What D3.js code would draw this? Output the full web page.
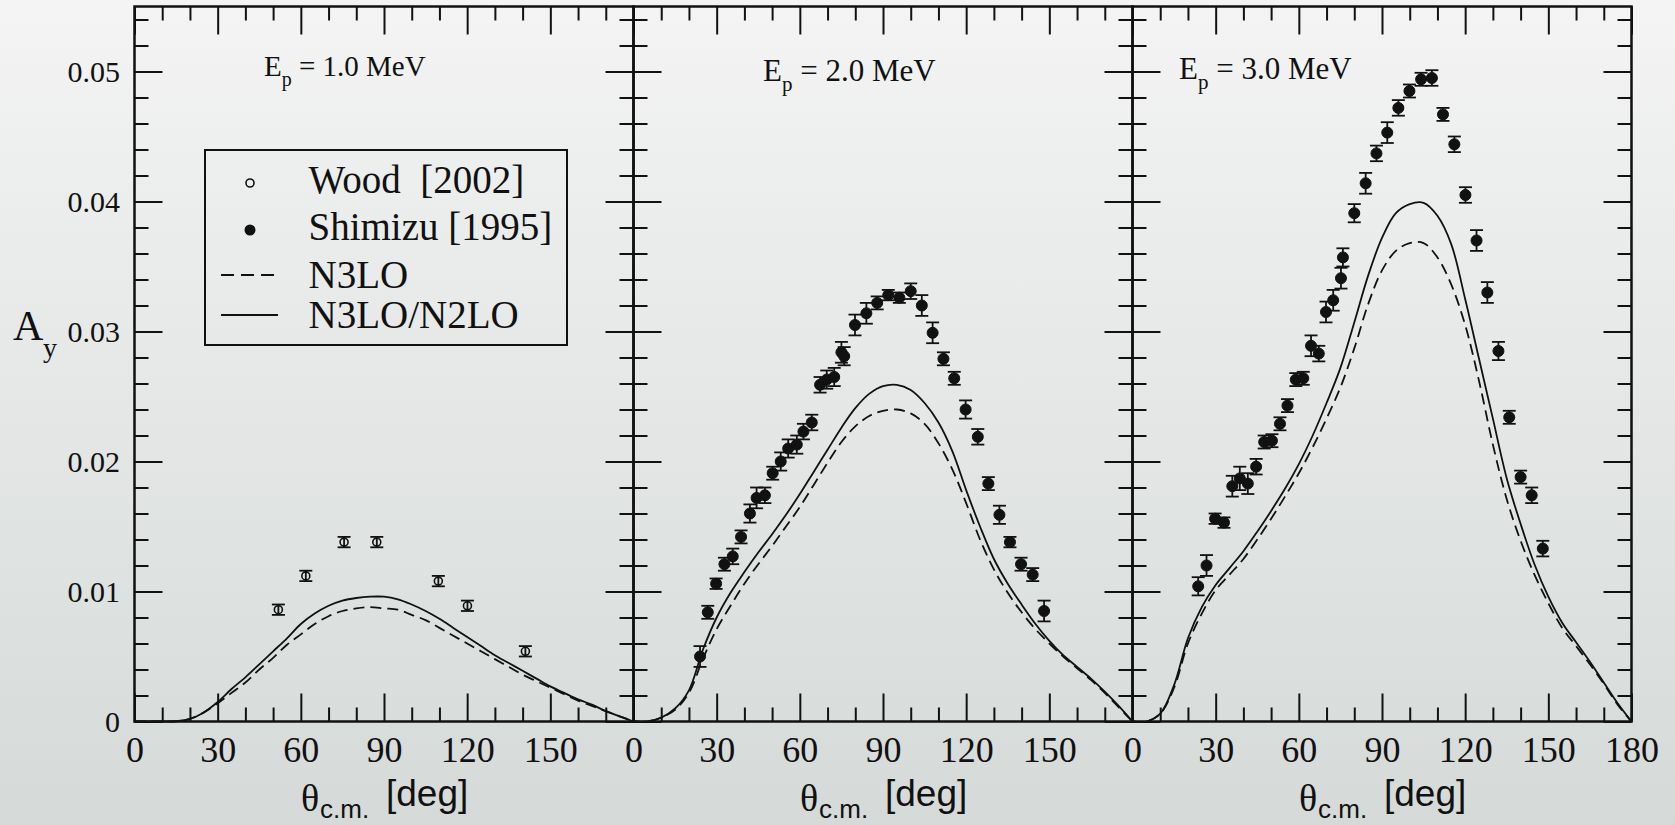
<!DOCTYPE html>
<html><head><meta charset="utf-8">
<script src="https://cdn.jsdelivr.net/npm/d3@7"></script>
<style>
html,body{margin:0;padding:0;background:#e6e8e7;}
body{width:1675px;height:825px;overflow:hidden;}
</style></head><body>
<script>
// ---------------- data ----------------
const energies = ["1.0", "2.0", "3.0"];
const xMajorTicks = [0, 30, 60, 90, 120, 150, 180];
const xMinorTicks = [10, 20, 40, 50, 70, 80, 100, 110, 130, 140, 160, 170];
const yMajorTicks = [0, 0.01, 0.02, 0.03, 0.04, 0.05];
const yMinorTicks = [0.002, 0.004, 0.006, 0.008, 0.012, 0.014, 0.016, 0.018, 0.022, 0.024, 0.026, 0.028,
                     0.032, 0.034, 0.036, 0.038, 0.042, 0.044, 0.046, 0.048, 0.052, 0.054];
const legendLabels = ["Wood  [2002]", "Shimizu [1995]", "N3LO", "N3LO/N2LO"];

// theory curves, tabulated every 5 degrees
const curveAngles = [0,5,10,15,20,25,30,35,40,45,50,55,60,65,70,75,80,85,90,95,100,105,110,115,120,125,130,135,140,145,150,155,160,165,170,175,180];
const n3lo_E1 = [0,0,0,0.00002,0.0002,0.0007,0.0014,0.0022,0.0030,0.0040,0.0049,0.0059,0.0067,0.0075,0.0081,0.0085,0.0087,0.0088,0.0087,0.0086,0.0082,0.0078,0.0072,0.0066,0.0060,0.0054,0.0048,0.0042,0.0036,0.0031,0.0026,0.0021,0.0016,0.0012,0.0008,0.0004,0];
const n3lo_n2lo_E1 = [0,0,0,0.00002,0.0002,0.0007,0.0015,0.0025,0.0034,0.0044,0.0054,0.0064,0.0075,0.0083,0.0089,0.0093,0.0095,0.0096,0.0096,0.0094,0.0090,0.0085,0.0079,0.0072,0.0065,0.0058,0.0051,0.0045,0.0039,0.0033,0.0027,0.0022,0.0017,0.0013,0.0008,0.0004,0];
const n3lo_E2 = [0,0,0.0003,0.0009,0.0022,0.0048,0.0071,0.0089,0.0106,0.0121,0.0135,0.0150,0.0165,0.0182,0.0199,0.0215,0.0227,0.0235,0.0239,0.0240,0.0237,0.0229,0.0214,0.0194,0.0168,0.0140,0.0117,0.0099,0.0084,0.0071,0.0060,0.0050,0.0041,0.0032,0.0022,0.0011,0];
const n3lo_n2lo_E2 = [0,0,0.0003,0.0010,0.0024,0.0055,0.0080,0.0099,0.0115,0.0130,0.0144,0.0159,0.0175,0.0192,0.0209,0.0226,0.0241,0.0252,0.0258,0.0259,0.0255,0.0245,0.0230,0.0208,0.0178,0.0150,0.0125,0.0106,0.0090,0.0075,0.0062,0.0051,0.0042,0.0033,0.0023,0.0012,0];
const n3lo_E3 = [0,0,0.0006,0.0026,0.0060,0.0083,0.0101,0.0113,0.0125,0.0140,0.0156,0.0173,0.0191,0.0211,0.0233,0.0257,0.0287,0.0321,0.0347,0.0362,0.0368,0.0368,0.0357,0.0336,0.0305,0.0262,0.0213,0.0171,0.0139,0.0113,0.0091,0.0072,0.0058,0.0044,0.0029,0.0013,0];
const n3lo_n2lo_E3 = [0,0,0.0006,0.0028,0.0064,0.0088,0.0105,0.0118,0.0131,0.0146,0.0162,0.0179,0.0198,0.0220,0.0245,0.0272,0.0307,0.0343,0.0372,0.0391,0.0398,0.0399,0.0389,0.0367,0.0325,0.0279,0.0233,0.0187,0.0152,0.0121,0.0096,0.0076,0.0061,0.0046,0.0030,0.0014,0];

// Wood [2002], Ep = 1.0 MeV
const woodAngles = [51.9, 61.8, 75.6, 87.4, 109.6, 120.1, 141.0];
const woodValues = [0.0086, 0.0112, 0.0138, 0.0138, 0.0108, 0.0089, 0.0054];
const woodErrors = [0.0004, 0.0004, 0.0004, 0.0004, 0.0004, 0.0004, 0.0004];

// Shimizu [1995], Ep = 2.0 MeV
const shimizu2Angles = [24.0,26.8,29.8,32.8,35.8,38.8,42.0,44.4,47.4,50.2,53.1,55.8,58.9,61.3,64.3,67.3,69.7,72.4,75.0,76.0,79.9,84.0,87.9,91.9,95.9,100.0,104.0,107.9,111.8,115.7,119.8,124.2,128.0,132.0,135.8,139.8,144.0,148.1];
const shimizu2Values = [0.0050,0.0084,0.0106,0.0121,0.0127,0.0142,0.0160,0.0172,0.0174,0.0191,0.0200,0.0210,0.0213,0.0223,0.0230,0.0259,0.0263,0.0265,0.0284,0.0281,0.0305,0.0314,0.0322,0.0328,0.0326,0.0331,0.0320,0.0299,0.0279,0.0264,0.0240,0.0219,0.0183,0.0159,0.0138,0.0121,0.0113,0.0085];
const shimizu2Errors = [0.0008,0.0005,0.0004,0.0005,0.0006,0.0005,0.0007,0.0008,0.0006,0.0005,0.0007,0.0007,0.0007,0.0006,0.0006,0.0006,0.0007,0.0007,0.0008,0.0007,0.0008,0.0008,0.0005,0.0004,0.0004,0.0006,0.0008,0.0008,0.0005,0.0005,0.0007,0.0006,0.0005,0.0007,0.0004,0.0005,0.0005,0.0008];

// Shimizu [1995], Ep = 3.0 MeV
const shimizu3Angles = [23.7,26.7,29.8,33.0,36.0,38.7,41.6,44.6,47.5,50.3,53.2,55.9,58.9,61.6,64.4,67.2,69.8,72.4,75.2,75.9,80.0,84.1,88.0,91.9,95.9,99.9,104.1,108.0,112.0,116.1,120.1,124.1,128.0,132.0,135.9,140.0,144.0,148.0];
const shimizu3Values = [0.0104,0.0120,0.0156,0.0153,0.0181,0.0187,0.0183,0.0196,0.0215,0.0216,0.0229,0.0243,0.0263,0.0264,0.0289,0.0283,0.0315,0.0324,0.0341,0.0357,0.0391,0.0414,0.0437,0.0453,0.0472,0.0485,0.0494,0.0495,0.0467,0.0444,0.0405,0.0370,0.0330,0.0285,0.0234,0.0188,0.0174,0.0133];
const shimizu3Errors = [0.0007,0.0008,0.0004,0.0004,0.0008,0.0009,0.0008,0.0006,0.0005,0.0005,0.0005,0.0005,0.0005,0.0005,0.0008,0.0006,0.0008,0.0008,0.0008,0.0007,0.0007,0.0008,0.0006,0.0008,0.0006,0.0005,0.0005,0.0006,0.0005,0.0006,0.0006,0.0008,0.0008,0.0007,0.0005,0.0005,0.0006,0.0006];

// ---------------- drawing ----------------
const W = 1675, H = 825;
const panelLefts = [134.5, 633.5, 1132.5];
const panelW = 499;
const plotTop = 6.5, plotBottom = 721.5;
const SERIF = '"Liberation Serif", "Times New Roman", serif';
const SANS = '"Liberation Sans", Arial, sans-serif';
const INK = "#111";

const svg = d3.select("body").append("svg").attr("width", W).attr("height", H);
const grad = svg.append("defs").append("linearGradient").attr("id", "bg")
  .attr("x1", 0).attr("y1", 0).attr("x2", 0).attr("y2", 1);
grad.append("stop").attr("offset", "0%").attr("stop-color", "#f3f4f3");
grad.append("stop").attr("offset", "100%").attr("stop-color", "#d5dad8");
svg.append("rect").attr("width", W).attr("height", H).attr("fill", "url(#bg)");

const y = d3.scaleLinear().domain([0, 0.055]).range([plotBottom, plotTop]);

const zip = (a, b) => a.map((v, i) => [v, b[i]]);
const curvesN3LO = [n3lo_E1, n3lo_E2, n3lo_E3];
const curvesFull = [n3lo_n2lo_E1, n3lo_n2lo_E2, n3lo_n2lo_E3];

function styleAxis(g) {
  g.select(".domain").remove();
  g.selectAll(".tick line").attr("stroke", INK).attr("stroke-width", 2);
}
function txt(parent, x, yy, size, family, s) {
  return parent.append("text").attr("x", x).attr("y", yy)
    .style("font-family", family).style("font-size", size + "px").style("fill", INK).text(s);
}

panelLefts.forEach((L, p) => {
  const x = d3.scaleLinear().domain([0, 180]).range([L, L + panelW]);
  const g = svg.append("g");

  // bottom axis (major with labels)
  const labTicks = p < 2 ? xMajorTicks.slice(0, 6) : xMajorTicks;
  g.append("g").attr("transform", `translate(0,${plotBottom})`)
    .call(d3.axisBottom(x).tickValues(xMajorTicks).tickSizeInner(-28).tickSizeOuter(0).tickPadding(15)
      .tickFormat(d => labTicks.includes(d) ? d3.format("d")(d) : ""))
    .call(styleAxis)
    .call(a => a.selectAll("text").style("font-size", "36px").style("font-family", SERIF).style("fill", INK));
  g.append("g").attr("transform", `translate(0,${plotBottom})`)
    .call(d3.axisBottom(x).tickValues(xMinorTicks).tickSizeInner(-14).tickSizeOuter(0).tickFormat(""))
    .call(styleAxis);
  // top axis
  g.append("g").attr("transform", `translate(0,${plotTop})`)
    .call(d3.axisTop(x).tickValues(xMajorTicks).tickSizeInner(-28).tickSizeOuter(0).tickFormat(""))
    .call(styleAxis);
  g.append("g").attr("transform", `translate(0,${plotTop})`)
    .call(d3.axisTop(x).tickValues(xMinorTicks).tickSizeInner(-14).tickSizeOuter(0).tickFormat(""))
    .call(styleAxis);
  // left axis
  g.append("g").attr("transform", `translate(${L},0)`)
    .call(d3.axisLeft(y).tickValues(yMajorTicks).tickSizeInner(-28).tickSizeOuter(0).tickPadding(14.5)
      .tickFormat(d => p === 0 ? (d === 0 ? "0" : d3.format(".2f")(d)) : ""))
    .call(styleAxis)
    .call(a => a.selectAll("text").style("font-size", "30px").style("font-family", SERIF).style("fill", INK));
  g.append("g").attr("transform", `translate(${L},0)`)
    .call(d3.axisLeft(y).tickValues(yMinorTicks).tickSizeInner(-14).tickSizeOuter(0).tickFormat(""))
    .call(styleAxis);
  // right axis
  g.append("g").attr("transform", `translate(${L + panelW},0)`)
    .call(d3.axisRight(y).tickValues(yMajorTicks).tickSizeInner(-28).tickSizeOuter(0).tickFormat(""))
    .call(styleAxis);
  g.append("g").attr("transform", `translate(${L + panelW},0)`)
    .call(d3.axisRight(y).tickValues(yMinorTicks).tickSizeInner(-14).tickSizeOuter(0).tickFormat(""))
    .call(styleAxis);

  // frame
  g.append("rect").attr("x", L).attr("y", plotTop).attr("width", panelW).attr("height", plotBottom - plotTop)
    .attr("fill", "none").attr("stroke", INK).attr("stroke-width", 2.5);

  // curves
  const line = d3.line().x(d => x(d[0])).y(d => Math.min(y(d[1]), plotBottom)).curve(d3.curveCatmullRom.alpha(0.5));
  g.append("path").datum(zip(curveAngles, curvesN3LO[p])).attr("d", line)
    .attr("fill", "none").attr("stroke", INK).attr("stroke-width", 1.8).attr("stroke-dasharray", "11,6");
  g.append("path").datum(zip(curveAngles, curvesFull[p])).attr("d", line)
    .attr("fill", "none").attr("stroke", INK).attr("stroke-width", 1.8);

  // data
  let ang, val, err, open;
  if (p === 0) { ang = woodAngles; val = woodValues; err = woodErrors; open = true; }
  else if (p === 1) { ang = shimizu2Angles; val = shimizu2Values; err = shimizu2Errors; open = false; }
  else { ang = shimizu3Angles; val = shimizu3Values; err = shimizu3Errors; open = false; }
  const pts = ang.map((a, i) => ({ a, v: val[i], e: err[i] }));
  const eb = g.append("g").attr("stroke", INK).attr("stroke-width", 1.8);
  pts.forEach(d => {
    const cx = x(d.a), y1 = y(d.v - d.e), y2 = y(d.v + d.e), cw = 6.5;
    eb.append("line").attr("x1", cx).attr("x2", cx).attr("y1", y1).attr("y2", y2);
    eb.append("line").attr("x1", cx - cw).attr("x2", cx + cw).attr("y1", y1).attr("y2", y1);
    eb.append("line").attr("x1", cx - cw).attr("x2", cx + cw).attr("y1", y2).attr("y2", y2);
  });
  g.selectAll(".pt").data(pts).enter().append("circle")
    .attr("cx", d => x(d.a)).attr("cy", d => y(d.v)).attr("r", open ? 4 : 5.5)
    .attr("fill", open ? "none" : INK).attr("stroke", INK).attr("stroke-width", open ? 1.6 : 1);

  // energy label
  const titleX = [264, 763, 1179][p], titleY = [76, 81, 78.5][p], fs = [29, 31, 31][p];
  const t = svg.append("text").attr("x", titleX).attr("y", titleY)
    .style("font-family", SERIF).style("font-size", fs + "px").style("fill", INK);
  t.append("tspan").text("E");
  t.append("tspan").style("font-size", Math.round(fs * 0.68) + "px").attr("dy", 10).text("p");
  t.append("tspan").attr("dy", -10).text(` = ${energies[p]} MeV`);

  // x-axis title
  const cxp = L + panelW / 2;
  txt(svg, cxp - 83, 811, 38, SERIF, "θ");
  txt(svg, cxp - 64, 818, 26, SANS, "c.m.");
  txt(svg, cxp + 2, 806, 37, SANS, "[deg]");
});

// y-axis title
txt(svg, 13, 340, 42, SERIF, "A");
txt(svg, 43, 357, 28, SERIF, "y");

// legend
const lg = svg.append("g");
lg.append("rect").attr("x", 205).attr("y", 150).attr("width", 362).attr("height", 195)
  .attr("fill", "none").attr("stroke", INK).attr("stroke-width", 2);
const rowsY = [193, 240, 288, 328];
legendLabels.forEach((lab, i) => {
  txt(lg, 308.5, rowsY[i], 39, SERIF, lab).style("white-space", "pre");
});
lg.append("circle").attr("cx", 250).attr("cy", 183).attr("r", 4).attr("fill", "none").attr("stroke", INK).attr("stroke-width", 1.6);
lg.append("circle").attr("cx", 250).attr("cy", 230).attr("r", 5.5).attr("fill", INK);
lg.append("line").attr("x1", 221).attr("x2", 278).attr("y1", 275).attr("y2", 275)
  .attr("stroke", INK).attr("stroke-width", 1.8).attr("stroke-dasharray", "13,7");
lg.append("line").attr("x1", 221).attr("x2", 278).attr("y1", 315).attr("y2", 315)
  .attr("stroke", INK).attr("stroke-width", 1.8);
</script>
</body></html>
